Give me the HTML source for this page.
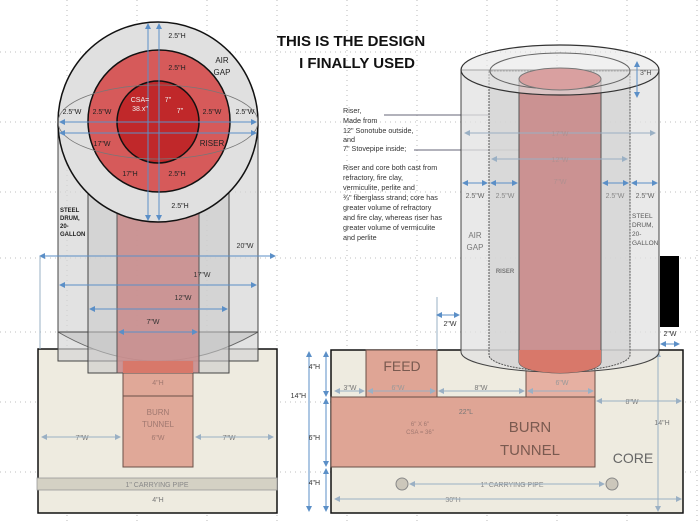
<!DOCTYPE html>
<html><head><meta charset="utf-8"><style>
html,body{margin:0;padding:0;background:#fff}
svg{display:block}
text{font-family:"Liberation Sans",sans-serif}
</style></head><body>
<svg width="700" height="525" viewBox="0 0 700 525" xmlns="http://www.w3.org/2000/svg">
<defs>
<marker id="a" markerWidth="6" markerHeight="6" refX="5" refY="3" orient="auto-start-reverse"><path d="M0,0L6,3L0,6z" fill="#5b8fc7"/></marker>
<marker id="g" markerWidth="6" markerHeight="6" refX="5" refY="3" orient="auto-start-reverse"><path d="M0,0L6,3L0,6z" fill="#9ab0c4"/></marker>
</defs>
<!-- grid -->
<g stroke="#aaa" stroke-width="0.8" stroke-dasharray="1,4">
<line x1="67" y1="0" x2="67" y2="525"/><line x1="137" y1="0" x2="137" y2="525"/><line x1="207" y1="0" x2="207" y2="525"/><line x1="277" y1="0" x2="277" y2="525"/><line x1="347" y1="0" x2="347" y2="525"/><line x1="417" y1="0" x2="417" y2="525"/><line x1="487" y1="0" x2="487" y2="525"/><line x1="557" y1="0" x2="557" y2="525"/><line x1="627" y1="0" x2="627" y2="525"/><line x1="697" y1="0" x2="697" y2="525"/>
<line x1="0" y1="52" x2="700" y2="52"/><line x1="0" y1="122" x2="700" y2="122"/><line x1="0" y1="192" x2="700" y2="192"/><line x1="0" y1="258" x2="700" y2="258"/><line x1="0" y1="332" x2="700" y2="332"/><line x1="0" y1="402" x2="700" y2="402"/><line x1="0" y1="472" x2="700" y2="472"/>
</g>

<!-- LEFT base -->
<rect x="38" y="349" width="239" height="164" fill="#eeebe0" stroke="#111" stroke-width="1.5"/>
<rect x="37" y="478" width="240" height="12" fill="#d4d1c4" stroke="#999" stroke-width="0.8"/>
<text x="157" y="487" font-size="7" fill="#888" text-anchor="middle">1" CARRYING PIPE</text>
<rect x="123" y="361" width="70" height="106" fill="#e0a898" stroke="#6a5048" stroke-width="1"/>
<line x1="123" y1="396" x2="193" y2="396" stroke="#6a5048"/>
<text x="158" y="415" font-size="8" fill="#a07870" text-anchor="middle">BURN</text>
<text x="158" y="427" font-size="8" fill="#a07870" text-anchor="middle">TUNNEL</text>
<text x="158" y="385" font-size="7" fill="#a07870" text-anchor="middle">4"H</text>
<text x="158" y="440" font-size="7" fill="#a07870" text-anchor="middle">6"W</text>
<text x="82" y="440" font-size="7" fill="#777" text-anchor="middle">7"W</text>
<text x="229" y="440" font-size="7" fill="#777" text-anchor="middle">7"W</text>
<text x="158" y="502" font-size="7" fill="#777" text-anchor="middle">4"H</text>
<line x1="42" y1="437" x2="120" y2="437" stroke="#9ab0c4" marker-start="url(#g)" marker-end="url(#g)"/>
<line x1="196" y1="437" x2="273" y2="437" stroke="#9ab0c4" marker-start="url(#g)" marker-end="url(#g)"/>

<!-- LEFT columns -->
<rect x="58" y="122" width="200" height="239" fill="#d6d6d6" fill-opacity="0.7" stroke="#444" stroke-width="1"/>
<path d="M58,332 Q158,390 258,332" fill="#cfcfcf" stroke="#666"/>
<line x1="58" y1="332" x2="258" y2="332" stroke="#444"/>
<rect x="88" y="122" width="141" height="251" fill="#c8c8c8" fill-opacity="0.55" stroke="#444"/>
<rect x="117" y="122" width="82" height="251" fill="#c98a8a" fill-opacity="0.85" stroke="#555"/>
<rect x="123" y="361" width="70" height="12" fill="#d8786a"/>
<text x="245" y="248" font-size="7" fill="#333" text-anchor="middle">20"W</text>
<text x="202" y="277" font-size="7" fill="#333" text-anchor="middle">17"W</text>
<text x="183" y="300" font-size="7" fill="#333" text-anchor="middle">12"W</text>
<text x="153" y="324" font-size="7" fill="#333" text-anchor="middle">7"W</text>
<line x1="40" y1="256" x2="275" y2="256" stroke="#5b8fc7" marker-start="url(#a)" marker-end="url(#a)"/>
<line x1="40" y1="256" x2="40" y2="349" stroke="#9ab0c4"/>
<line x1="60" y1="285" x2="256" y2="285" stroke="#5b8fc7" marker-start="url(#a)" marker-end="url(#a)"/>
<line x1="90" y1="309" x2="227" y2="309" stroke="#5b8fc7" marker-start="url(#a)" marker-end="url(#a)"/>
<line x1="119" y1="332" x2="197" y2="332" stroke="#5b8fc7" marker-start="url(#a)" marker-end="url(#a)"/>
<text x="60" y="212" font-size="6" font-weight="bold" fill="#222">STEEL</text>
<text x="60" y="220" font-size="6" font-weight="bold" fill="#222">DRUM,</text>
<text x="60" y="228" font-size="6" font-weight="bold" fill="#222">20-</text>
<text x="60" y="236" font-size="6" font-weight="bold" fill="#222">GALLON</text>

<!-- LEFT top circles -->
<circle cx="158" cy="122" r="100" fill="#e0e0e0" stroke="#111" stroke-width="1.5"/>
<circle cx="159" cy="121" r="71" fill="#d65a5a" stroke="#111" stroke-width="1.5"/>
<circle cx="158" cy="122" r="41" fill="#c0282a" stroke="#111" stroke-width="1.5"/>
<ellipse cx="158" cy="122" rx="100" ry="37" fill="none" stroke="#777" stroke-width="0.8"/>
<g stroke="#5b8fc7" stroke-width="1">
<line x1="148" y1="24" x2="148" y2="220" marker-start="url(#a)" marker-end="url(#a)"/>
<line x1="159" y1="24" x2="159" y2="220" marker-start="url(#a)" marker-end="url(#a)"/>
<line x1="60" y1="122" x2="256" y2="122" marker-start="url(#a)" marker-end="url(#a)"/>
<line x1="60" y1="133" x2="256" y2="133" marker-start="url(#a)" marker-end="url(#a)"/>
</g>
<text x="177" y="38" font-size="7" fill="#222" text-anchor="middle">2.5"H</text>
<text x="177" y="70" font-size="7" fill="#222" text-anchor="middle">2.5"H</text>
<text x="177" y="176" font-size="7" fill="#222" text-anchor="middle">2.5"H</text>
<text x="180" y="208" font-size="7" fill="#222" text-anchor="middle">2.5"H</text>
<text x="222" y="63" font-size="8" fill="#222" text-anchor="middle">AIR</text>
<text x="222" y="75" font-size="8" fill="#222" text-anchor="middle">GAP</text>
<text x="212" y="146" font-size="8" fill="#222" text-anchor="middle">RISER</text>
<text x="72" y="114" font-size="7" fill="#222" text-anchor="middle">2.5"W</text>
<text x="102" y="114" font-size="7" fill="#222" text-anchor="middle">2.5"W</text>
<text x="212" y="114" font-size="7" fill="#222" text-anchor="middle">2.5"W</text>
<text x="245" y="114" font-size="7" fill="#222" text-anchor="middle">2.5"W</text>
<text x="102" y="146" font-size="7" fill="#222" text-anchor="middle">17"W</text>
<text x="130" y="176" font-size="7" fill="#222" text-anchor="middle">17"H</text>
<text x="140" y="102" font-size="7" fill="#eee" text-anchor="middle">CSA=</text>
<text x="140" y="111" font-size="7" fill="#eee" text-anchor="middle">38.x"</text>
<text x="168" y="102" font-size="7" fill="#eee" text-anchor="middle">7"</text>
<text x="180" y="113" font-size="7" fill="#eee" text-anchor="middle">7"</text>

<!-- Title -->
<text x="351" y="46" font-size="15" font-weight="bold" fill="#111" text-anchor="middle">THIS IS THE DESIGN</text>
<text x="357" y="68" font-size="15" font-weight="bold" fill="#111" text-anchor="middle">I FINALLY USED</text>

<!-- text block -->
<g font-size="7.2" fill="#333">
<text x="343" y="113">Riser,</text>
<text x="343" y="123">Made from</text>
<text x="343" y="133">12" Sonotube outside,</text>
<text x="343" y="142">and</text>
<text x="343" y="151">7" Stovepipe inside;</text>
<text x="343" y="170">Riser and core both cast from</text>
<text x="343" y="180">refractory, fire clay,</text>
<text x="343" y="190">vermiculite, perlite and</text>
<text x="343" y="200">¾" fiberglass strand; core has</text>
<text x="343" y="210">greater volume of refractory</text>
<text x="343" y="220">and fire clay, whereas riser has</text>
<text x="343" y="230">greater volume of vermiculite</text>
<text x="343" y="240">and perlite</text>
</g>
<line x1="384" y1="115" x2="490" y2="115" stroke="#667"/>
<line x1="414" y1="150" x2="519" y2="150" stroke="#667"/>

<!-- RIGHT base -->
<rect x="331" y="350" width="352" height="163" fill="#eeebe0" stroke="#111" stroke-width="1.5"/>
<rect x="366" y="350" width="71" height="47" fill="#dfa595" stroke="#6a5048"/>
<rect x="331" y="397" width="264" height="70" fill="#dfa595" stroke="#6a5048"/>
<rect x="526" y="350" width="69" height="47" fill="#e6b0a2" stroke="#6a5048"/>
<text x="402" y="371" font-size="14" fill="#7a5a50" text-anchor="middle">FEED</text>
<text x="530" y="432" font-size="15" fill="#7a5a50" text-anchor="middle">BURN</text>
<text x="530" y="455" font-size="15" fill="#7a5a50" text-anchor="middle">TUNNEL</text>
<text x="633" y="463" font-size="14" fill="#666" text-anchor="middle">CORE</text>
<text x="466" y="414" font-size="7" fill="#777" text-anchor="middle">22"L</text>
<text x="420" y="426" font-size="6" fill="#a07870" text-anchor="middle">6" X 6"</text>
<text x="420" y="434" font-size="6" fill="#a07870" text-anchor="middle">CSA = 36"</text>
<text x="350" y="390" font-size="7" fill="#777" text-anchor="middle">3"W</text>
<text x="398" y="390" font-size="7" fill="#999" text-anchor="middle">6"W</text>
<text x="481" y="390" font-size="7" fill="#777" text-anchor="middle">8"W</text>
<text x="562" y="385" font-size="7" fill="#999" text-anchor="middle">6"W</text>
<text x="632" y="404" font-size="7" fill="#777" text-anchor="middle">8"W</text>
<text x="662" y="425" font-size="7" fill="#777" text-anchor="middle">14"H</text>
<text x="512" y="487" font-size="7" fill="#888" text-anchor="middle">1" CARRYING PIPE</text>
<text x="453" y="502" font-size="7" fill="#888" text-anchor="middle">30"H</text>
<circle cx="402" cy="484" r="6" fill="#ccc7bb" stroke="#888"/>
<circle cx="612" cy="484" r="6" fill="#ccc7bb" stroke="#888"/>
<line x1="335" y1="391" x2="364" y2="391" stroke="#9ab0c4" marker-start="url(#g)" marker-end="url(#g)"/>
<line x1="368" y1="391" x2="435" y2="391" stroke="#9ab0c4" marker-start="url(#g)" marker-end="url(#g)"/>
<line x1="439" y1="391" x2="524" y2="391" stroke="#9ab0c4" marker-start="url(#g)" marker-end="url(#g)"/>
<line x1="528" y1="391" x2="593" y2="391" stroke="#9ab0c4" marker-start="url(#g)" marker-end="url(#g)"/>
<line x1="597" y1="401" x2="681" y2="401" stroke="#9ab0c4" marker-start="url(#g)" marker-end="url(#g)"/>
<line x1="335" y1="499" x2="681" y2="499" stroke="#9ab0c4" marker-start="url(#g)" marker-end="url(#g)"/>
<line x1="410" y1="484" x2="604" y2="484" stroke="#9ab0c4" marker-start="url(#g)" marker-end="url(#g)"/>
<line x1="658" y1="352" x2="658" y2="511" stroke="#9ab0c4" marker-start="url(#g)" marker-end="url(#g)"/>
<line x1="309" y1="352" x2="309" y2="511" stroke="#5b8fc7" marker-start="url(#a)" marker-end="url(#a)"/>
<line x1="326" y1="352" x2="326" y2="396" stroke="#5b8fc7" marker-start="url(#a)" marker-end="url(#a)"/>
<line x1="326" y1="399" x2="326" y2="466" stroke="#5b8fc7" marker-start="url(#a)" marker-end="url(#a)"/>
<line x1="326" y1="469" x2="326" y2="511" stroke="#5b8fc7" marker-start="url(#a)" marker-end="url(#a)"/>
<text x="320" y="369" font-size="7" fill="#333" text-anchor="end">4"H</text>
<text x="306" y="398" font-size="7" fill="#333" text-anchor="end">14"H</text>
<text x="320" y="440" font-size="7" fill="#333" text-anchor="end">6"H</text>
<text x="320" y="485" font-size="7" fill="#333" text-anchor="end">4"H</text>

<!-- RIGHT cylinder -->
<path d="M461,70 L461,352 A99,20 0 0 0 659,352 L659,70 Z" fill="#e2e2e2" fill-opacity="0.75" stroke="#444"/>
<path d="M489,71 L489,355 A70,16 0 0 0 630,355 L630,71 Z" fill="#cfcfcf" fill-opacity="0.6" stroke="#555" stroke-dasharray="2,1"/>
<path d="M519,79 L519,362 A41,11 0 0 0 601,362 L601,79 Z" fill="#c98a8a" fill-opacity="0.9" stroke="#555"/>
<path d="M519,362 A41,11 0 0 0 601,362 L601,350 L519,350 Z" fill="#d8786a"/>
<ellipse cx="560" cy="70" rx="99" ry="25" fill="#e6e6e6" fill-opacity="0.6" stroke="#333" stroke-width="1.2"/>
<ellipse cx="560" cy="71" rx="70" ry="18" fill="none" stroke="#666"/>
<ellipse cx="560" cy="79" rx="41" ry="11" fill="#d9a0a0" stroke="#777"/>
<line x1="465" y1="133" x2="655" y2="133" stroke="#9ab0c4" marker-start="url(#g)" marker-end="url(#g)"/>
<line x1="492" y1="159" x2="627" y2="159" stroke="#9ab0c4" marker-start="url(#g)" marker-end="url(#g)"/>
<line x1="463" y1="183" x2="487" y2="183" stroke="#5b8fc7" marker-start="url(#a)" marker-end="url(#a)"/>
<line x1="491" y1="183" x2="517" y2="183" stroke="#5b8fc7" marker-start="url(#a)" marker-end="url(#a)"/>
<line x1="603" y1="183" x2="628" y2="183" stroke="#5b8fc7" marker-start="url(#a)" marker-end="url(#a)"/>
<line x1="632" y1="183" x2="657" y2="183" stroke="#5b8fc7" marker-start="url(#a)" marker-end="url(#a)"/>
<line x1="637" y1="62" x2="637" y2="97" stroke="#5b8fc7" marker-start="url(#a)" marker-end="url(#a)"/>
<text x="640" y="75" font-size="7" fill="#555">3"H</text>
<text x="560" y="136" font-size="7" fill="#b09090" text-anchor="middle">17"W</text>
<text x="560" y="162" font-size="7" fill="#b09090" text-anchor="middle">12"W</text>
<text x="560" y="184" font-size="7" fill="#b09090" text-anchor="middle">7"W</text>
<text x="475" y="198" font-size="7" fill="#666" text-anchor="middle">2.5"W</text>
<text x="505" y="198" font-size="7" fill="#888" text-anchor="middle">2.5"W</text>
<text x="615" y="198" font-size="7" fill="#888" text-anchor="middle">2.5"W</text>
<text x="645" y="198" font-size="7" fill="#666" text-anchor="middle">2.5"W</text>
<text x="475" y="238" font-size="8" fill="#777" text-anchor="middle">AIR</text>
<text x="475" y="250" font-size="8" fill="#777" text-anchor="middle">GAP</text>
<text x="505" y="273" font-size="6" font-weight="bold" fill="#777" text-anchor="middle">RISER</text>
<text x="632" y="218" font-size="6.5" fill="#555">STEEL</text>
<text x="632" y="227" font-size="6.5" fill="#555">DRUM,</text>
<text x="632" y="236" font-size="6.5" fill="#555">20-</text>
<text x="632" y="245" font-size="6.5" fill="#555">GALLON</text>
<rect x="660" y="256" width="19" height="71" fill="#000"/>
<line x1="437" y1="297" x2="437" y2="350" stroke="#9ab0c4"/>
<line x1="437" y1="315" x2="459" y2="315" stroke="#5b8fc7" marker-start="url(#a)" marker-end="url(#a)"/>
<text x="450" y="326" font-size="7" fill="#333" text-anchor="middle">2"W</text>
<text x="670" y="336" font-size="7" fill="#333" text-anchor="middle">2"W</text>
<line x1="661" y1="344" x2="679" y2="344" stroke="#5b8fc7" marker-start="url(#a)" marker-end="url(#a)"/>
</svg>
</body></html>
